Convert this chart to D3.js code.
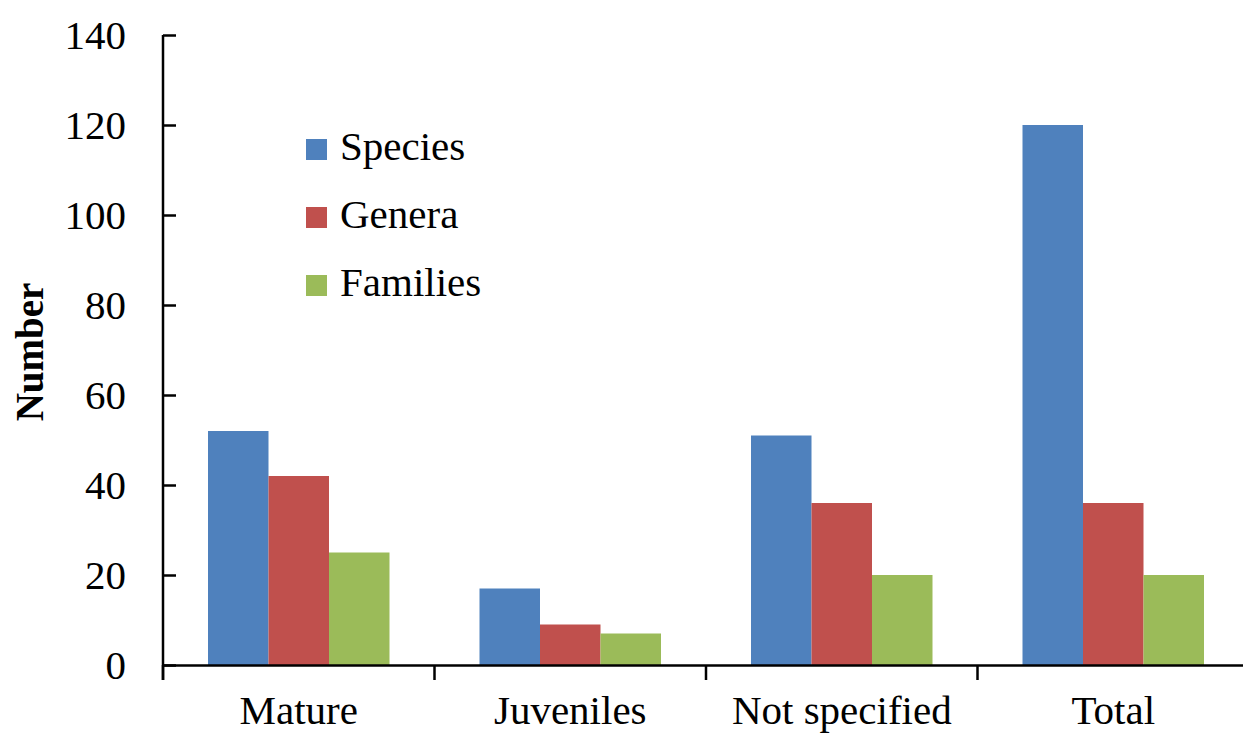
<!DOCTYPE html>
<html lang="en">
<head>
<meta charset="UTF-8">
<title>Number by stage</title>
<script src="https://cdn.jsdelivr.net/npm/d3@7"></script>
<style>
  body { margin: 0; background: #fff; }
  svg text { font-family: "Liberation Serif", "Times New Roman", serif; fill: #000; }
</style>
</head>
<body>
<script>
var categories = ['Mature', 'Juveniles', 'Not specified', 'Total'];
var seriesNames = ['Species', 'Genera', 'Families'];
var species = [52, 17, 51, 120];
var genera = [42, 9, 36, 36];
var families = [25, 7, 20, 20];
var yTicks = [0, 20, 40, 60, 80, 100, 120, 140];

var colors = ['#4F81BD', '#C0504D', '#9BBB59'];
var values = [species, genera, families];

var w = 1243, h = 735;
// plot edges (window.top is read-only, so no plain "top")
var plotLeft = 163, plotRight = 1249, plotTop = 35, plotBottom = 665;

var svg = d3.select('body').append('svg')
  .attr('width', w)
  .attr('height', h);

var x0 = d3.scaleBand()
  .domain(categories)
  .range([plotLeft, plotRight])
  .padding(0);

// bars sit in the middle of each category, ~45px gap each side
var x1 = d3.scaleBand()
  .domain(seriesNames)
  .range([45, x0.bandwidth() - 45])
  .padding(0);

var y = d3.scaleLinear()
  .domain([0, 140])
  .range([plotBottom, plotTop]);

// bars
var rows = categories.map(function(c, i) {
  return seriesNames.map(function(s, j) {
    return { cat: c, name: s, value: values[j][i], color: colors[j] };
  });
});

svg.append('g').selectAll('g')
  .data(rows)
  .enter().append('g')
  .attr('transform', function(d, i) { return 'translate(' + x0(categories[i]) + ',0)'; })
  .selectAll('rect')
  .data(function(d) { return d; })
  .enter().append('rect')
  .attr('x', function(d) { return x1(d.name); })
  .attr('y', function(d) { return y(d.value); })
  .attr('width', x1.bandwidth())
  .attr('height', function(d) { return y(0) - y(d.value); })
  .attr('fill', function(d) { return d.color; });

// y axis, ticks pointing inward
var yAxis = d3.axisLeft(y)
  .tickValues(yTicks)
  .tickSizeInner(-13)
  .tickSizeOuter(0)
  .tickPadding(37);

var gy = svg.append('g')
  .attr('transform', 'translate(' + plotLeft + ',0)')
  .call(yAxis);
gy.select('.domain').attr('stroke', '#000').attr('stroke-width', 2.5)
  .attr('d', 'M0,' + plotTop + 'V' + (plotBottom + 15));
gy.selectAll('.tick line').attr('stroke', '#000').attr('stroke-width', 2.5);
gy.selectAll('.tick text')
  .attr('font-size', '41px')
  .attr('font-family', '"Liberation Serif", serif')
  .attr('dy', '0.34em');

// x axis, labels only; boundary ticks drawn separately
var xAxis = d3.axisBottom(x0).tickSize(0).tickPadding(0);
var gx = svg.append('g')
  .attr('transform', 'translate(0,' + plotBottom + ')')
  .call(xAxis);
gx.select('.domain').attr('stroke', '#000').attr('stroke-width', 2.5);
gx.selectAll('.tick text')
  .attr('font-size', '41px')
  .attr('font-family', '"Liberation Serif", serif')
  .attr('y', 59)
  .attr('dy', 0);

var bounds = categories.map(function(c) { return x0(c); }).concat([x0.range()[1]]);
gx.selectAll('.bound')
  .data(bounds)
  .enter().append('line')
  .attr('class', 'bound')
  .attr('x1', function(d) { return d; })
  .attr('x2', function(d) { return d; })
  .attr('y1', 0)
  .attr('y2', 15)
  .attr('stroke', '#000')
  .attr('stroke-width', 2.5);

// y title
svg.append('text')
  .attr('transform', 'translate(43,352) rotate(-90)')
  .attr('text-anchor', 'middle')
  .attr('font-size', '39px')
  .attr('font-weight', 'bold')
  .text('Number');

// legend
var legend = svg.append('g').attr('transform', 'translate(306,139)');
var item = legend.selectAll('g')
  .data(seriesNames)
  .enter().append('g')
  .attr('transform', function(d, i) { return 'translate(0,' + i * 68 + ')'; });
item.append('rect')
  .attr('width', 21)
  .attr('height', 21)
  .attr('fill', function(d, i) { return colors[i]; });
item.append('text')
  .attr('x', 34)
  .attr('y', 21)
  .attr('font-size', '41px')
  .text(function(d) { return d; });
</script>
</body>
</html>
